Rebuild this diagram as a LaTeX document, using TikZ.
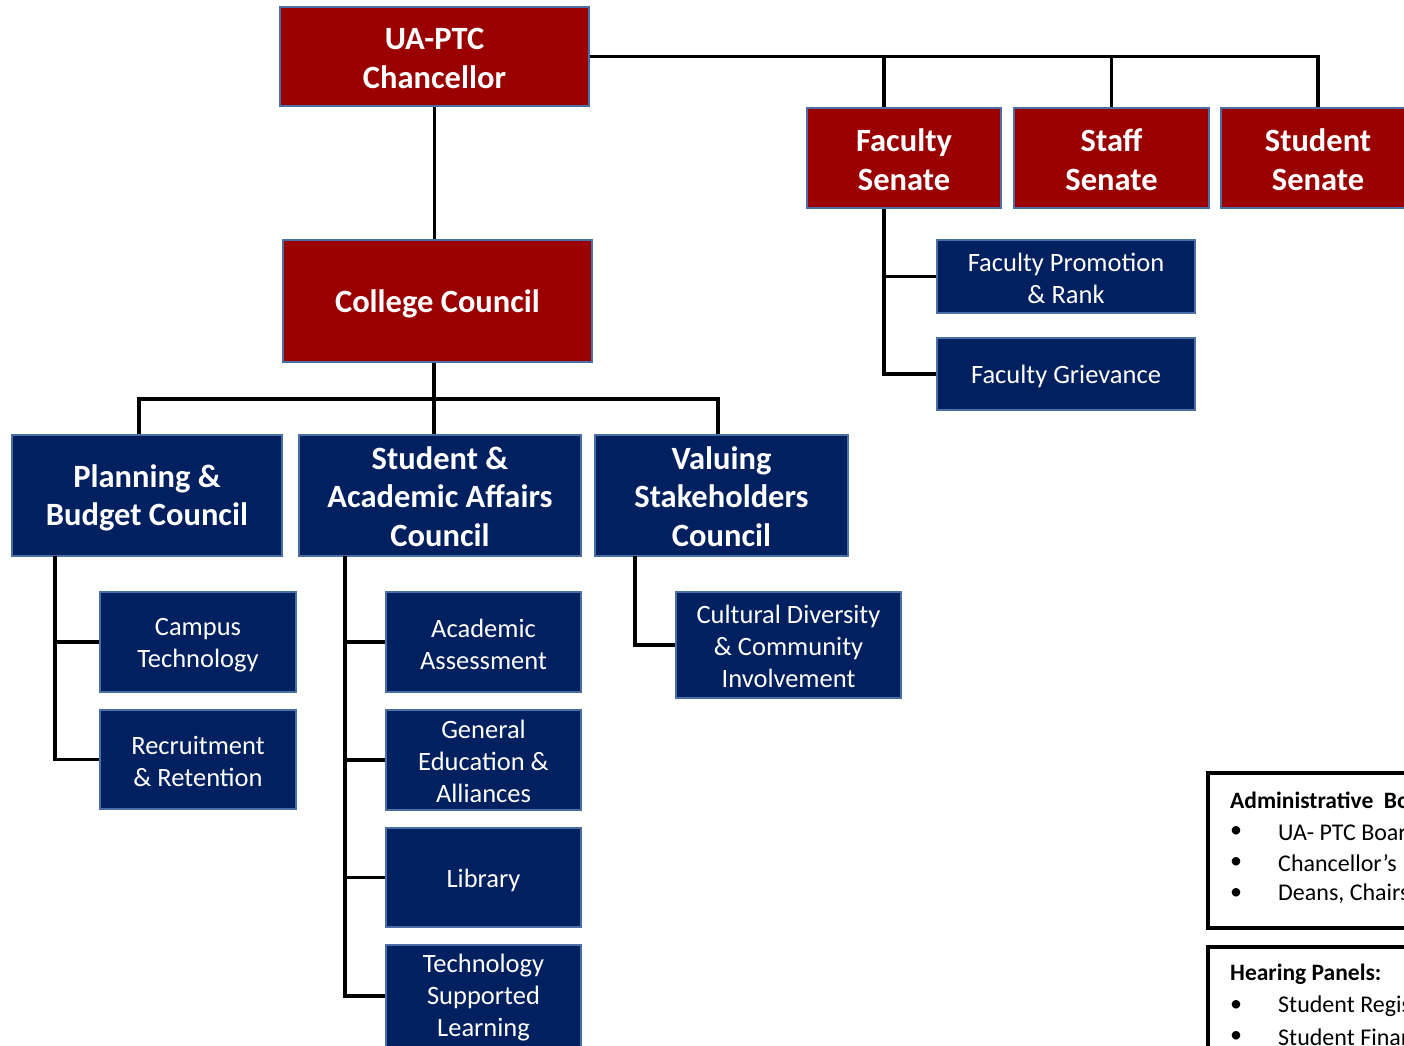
\documentclass[tikz,border=0pt]{standalone}
\usepackage{fontspec}
\setmainfont{Carlito}
\definecolor{dred}{HTML}{9A0000}
\definecolor{dblue}{HTML}{002060}
\definecolor{edgeblue}{HTML}{4A6FA5}
\newcommand\orgbox[7]{%
  \node[#1,minimum width=#4pt,minimum height=#5pt] (#2) at (#3) {};
  \node[#1text] (#2-t) at ([yshift=-#6pt]#2.center) {#7};}
\begin{document}
\begin{tikzpicture}[x=1pt,y=-1pt,
 box/.style={draw=edgeblue,line width=2pt,inner sep=0pt,anchor=center},
 redbox/.style={box,fill=dred},
 bigblue/.style={box,fill=dblue},
 smallblue/.style={box,fill=dblue},
 btext/.style={inner sep=0pt,text=white,align=center,font=\fontsize{32.5}{38.5}\selectfont\bfseries},
 redboxtext/.style={btext},
 bigbluetext/.style={btext},
 smallbluetext/.style={inner sep=0pt,text=white,align=center,font=\fontsize{26.5}{32}\selectfont},
 conn/.style={line width=3.5pt,black},
 legbox/.style={draw=black,line width=3.5pt,fill=white},
 legtitle/.style={anchor=west,inner sep=0pt,font=\fontsize{23.5}{28}\selectfont\bfseries},
 legitem/.style={anchor=west,inner sep=0pt,font=\fontsize{24}{28}\selectfont},
 legbullet/.style={anchor=center,inner sep=0pt,font=\fontsize{24}{28}\selectfont},
]
\useasboundingbox (0,0) rectangle (1404,1045);
\clip (0,0) rectangle (1404,1045);

% top level
\orgbox{redbox}{chan}{434.5,56.5}{309}{99}{2}{UA-PTC\\Chancellor}
\orgbox{redbox}{col}{437.5,301}{309}{122}{2.5}{College Council}
\orgbox{redbox}{fac}{904,158}{194}{100}{1.5}{Faculty\\Senate}
\orgbox{redbox}{staff}{1111.5,158}{195}{100}{1.5}{Staff\\Senate}
\orgbox{redbox}{stud}{1318,158}{194}{100}{1.5}{Student\\Senate}

% faculty sub
\orgbox{smallblue}{fpr}{1066,276.5}{258}{73}{1.5}{Faculty Promotion\\\& Rank}
\orgbox{smallblue}{fg}{1066,374}{258}{72}{2.5}{Faculty Grievance}

% councils
\orgbox{bigblue}{pbc}{147,495.5}{270}{121}{2.5}{Planning \&\\Budget Council}
\orgbox{bigblue}{saa}{440,495.5}{282}{121}{1}{Student \&\\Academic Affairs\\Council}
\orgbox{bigblue}{vsc}{721.5,495.5}{253}{121}{1}{Valuing\\Stakeholders\\Council}

% committees
\orgbox{smallblue}{ct}{198,642}{196}{100}{3}{Campus\\Technology}
\orgbox{smallblue}{rr}{198,759.5}{196}{99}{2}{Recruitment\\\& Retention}
\orgbox{smallblue}{aa}{483.5,642}{195}{100}{2}{Academic\\Assessment}
\orgbox{smallblue}{ge}{483.5,760}{195}{100}{1}{General\\Education \&\\Alliances}
\orgbox{smallblue}{lib}{483.5,877.5}{195}{99}{2.5}{Library}
\orgbox{smallblue}{tsl}{483.5,996}{195}{102}{2}{Technology\\Supported\\Learning}
\orgbox{smallblue}{cd}{788.5,645}{225}{106}{1}{Cultural Diversity\\\& Community\\Involvement}

% connector junctions
\coordinate (facx) at ([xshift=-20pt]fac.north);
\coordinate (bus) at (434,399);
\coordinate (pv) at (55,556);
\coordinate (sv) at (345,556);
\coordinate (vv) at (635,556);
\coordinate (fv) at ([xshift=-20pt]fac.south);
\coordinate (pdrop) at (139,399);
\coordinate (vdrop) at (718,399);

% chancellor connectors
\draw[conn] (chan.east) -- (chan.east -| stud.north) -- (stud.north);
\draw[conn] (chan.east -| facx) -- (facx);
\draw[conn] (chan.east -| staff.north) -- (staff.north);
\draw[conn] (chan.south) -- (chan.south |- col.north);
\draw[conn] (col.south -| bus) -- (bus);
\draw[conn] (pdrop |- pbc.north) -- (pdrop) -- (vdrop) -- (vdrop |- vsc.north);
\draw[conn] (bus) -- (bus |- saa.north);

% faculty senate sub
\draw[conn] (fv) |- (fg.west);
\draw[conn] (fv |- fpr.west) -- (fpr.west);

% planning sub
\draw[conn] (pv) |- (rr.west);
\draw[conn] (pv |- ct.west) -- (ct.west);

% student academic sub
\draw[conn] (sv) |- (tsl.west);
\draw[conn] (sv |- aa.west) -- (aa.west);
\draw[conn] (sv |- ge.west) -- (ge.west);
\draw[conn] (sv |- lib.west) -- (lib.west);

% valuing sub
\draw[conn] (vv) |- (cd.west);

% legend boxes
\node[legbox,minimum width=220pt,minimum height=155pt] (adm) at (1318,850.5) {};
\node[legtitle] (admt) at (1230,800) {Administrative\ \ Bodies:};
\node[legbullet] (ab1) at (1236,832) {\textbullet};
\node[legitem] (a1) at (1278,832) {UA- PTC Board of Visitors};
\node[legbullet] (ab2) at (1236,863) {\textbullet};
\node[legitem] (a2) at (1278,863) {Chancellor’s\ \ \ Cabinet};
\node[legbullet] (ab3) at (1236,894) {\textbullet};
\node[legitem] (a3) at (1278,894) {Deans, Chairs};

\node[legbox,minimum width=220pt,minimum height=160pt] (hp) at (1318,1027) {};
\node[legtitle] (hpt) at (1230,974) {Hearing Panels:};
\node[legbullet] (hb1) at (1236,1006) {\textbullet};
\node[legitem] (h1) at (1278,1006) {Student Registration};
\node[legbullet] (hb2) at (1236,1037) {\textbullet};
\node[legitem] (h2) at (1278,1037) {Student Financial Aid};
\end{tikzpicture}
\end{document}
